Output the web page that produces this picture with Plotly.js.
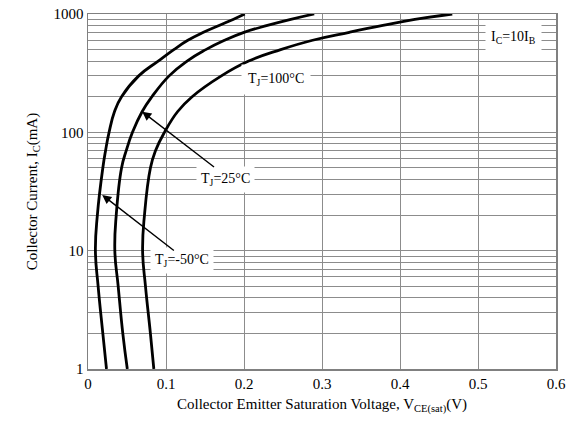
<!DOCTYPE html>
<html>
<head>
<meta charset="utf-8">
<script src="https://cdn.plot.ly/plotly-3.0.1.min.js"></script>
<style>html,body{margin:0;padding:0;background:#fff;}</style>
</head>
<body>
<div id="chart" style="width:569px;height:431px;"></div>
<script>
// Collector current (mA) and V_CE(sat) (V) for each junction temperature
var iM50 = [1, 2, 5, 10, 20, 50, 70, 100, 150, 200, 300, 400, 500, 600, 700, 800, 900, 1000];
var vM50 = [0.0237, 0.019, 0.013, 0.0095, 0.012, 0.019, 0.0225, 0.027, 0.034, 0.043, 0.065, 0.09, 0.11, 0.128, 0.148, 0.168, 0.186, 0.201];

var i25 = [1, 2, 5, 10, 20, 50, 70, 100, 150, 200, 300, 400, 500, 600, 700, 800, 900, 1000];
var v25 = [0.0504, 0.0446, 0.0387, 0.0344, 0.0362, 0.043, 0.049, 0.057, 0.0695, 0.082, 0.104, 0.127, 0.151, 0.175, 0.2, 0.23, 0.26, 0.29];

var i100 = [1, 2, 5, 10, 20, 50, 70, 100, 150, 200, 300, 400, 500, 600, 700, 800, 900, 1000];
var v100 = [0.0844, 0.08, 0.0737, 0.07, 0.0724, 0.08, 0.0865, 0.098, 0.115, 0.1335, 0.171, 0.206, 0.247, 0.288, 0.335, 0.378, 0.419, 0.467];

var xTicks = [0, 0.1, 0.2, 0.3, 0.4, 0.5, 0.6];
var xTickText = ['0', '0.1', '0.2', '0.3', '0.4', '0.5', '0.6'];
var yDecades = [1, 10, 100, 1000];
var yDecadeText = ['1', '10', '100', '1000'];

var labelM50 = 'T<sub>J</sub>=-50°C';
var label25 = 'T<sub>J</sub>=25°C';
var label100 = 'T<sub>J</sub>=100°C';
var labelCond = 'I<sub>C</sub>=10I<sub>B</sub>';

// minor grid values for every 2..9 per decade
var yGridVals = [];
for (var d = 0; d < 3; d++) {
  for (var m = 2; m <= 9; m++) yGridVals.push(m * Math.pow(10, d));
}

var lineStyle = {color: '#000', width: 2.8, shape: 'spline', smoothing: 1.3};
var traces = [
  {x: vM50, y: iM50, mode: 'lines', line: lineStyle, hoverinfo: 'skip'},
  {x: v25, y: i25, mode: 'lines', line: lineStyle, hoverinfo: 'skip'},
  {x: v100, y: i100, mode: 'lines', line: lineStyle, hoverinfo: 'skip'}
];

var fontFam = 'Times New Roman, Liberation Serif, serif';
var L = Math.log10;
var annFont = {family: fontFam, size: 14, color: '#000'};
var gridCol = '#8c8c8c';

var layout = {
  width: 569, height: 431,
  margin: {l: 87.5, r: 13.3, t: 14, b: 62},
  paper_bgcolor: '#fff', plot_bgcolor: '#fff',
  showlegend: false,
  font: {family: fontFam, size: 15, color: '#000'},
  xaxis: {
    range: [0, 0.6], tickmode: 'array', tickvals: xTicks, ticktext: xTickText,
    showgrid: true, gridcolor: gridCol, gridwidth: 1,
    showline: true, linecolor: '#808080', linewidth: 1.5, mirror: true,
    zeroline: false, ticks: '',
    tickfont: {family: fontFam, size: 15, color: '#000'},
    title: {text: 'Collector Emitter Saturation Voltage, V<sub>CE(sat)</sub>(V)', font: {family: fontFam, size: 15, color: '#000'}, standoff: 8}
  },
  yaxis: {
    type: 'log', range: [0, 3], tickmode: 'array', tickvals: yDecades, ticktext: yDecadeText,
    showgrid: true, gridcolor: gridCol, gridwidth: 1,
    minor: {tickmode: 'array', tickvals: yGridVals, showgrid: true, gridcolor: gridCol, gridwidth: 1, ticks: ''},
    showline: true, linecolor: '#808080', linewidth: 1.5, mirror: true,
    zeroline: false, ticks: '',
    tickfont: {family: fontFam, size: 15, color: '#000'},
    title: {text: 'Collector Current, I<sub>C</sub>(mA)', font: {family: fontFam, size: 15, color: '#000'}, standoff: 12}
  },
  annotations: [
    {x: 0.545, y: L(628), xref: 'x', yref: 'y', text: labelCond, showarrow: false, bgcolor: '#fff', font: annFont, borderpad: 5},
    {x: 0.241, y: L(277), xref: 'x', yref: 'y', text: label100, showarrow: false, bgcolor: '#fff', font: annFont, borderpad: 6},
    {x: 0.176, y: L(39.6), xref: 'x', yref: 'y', text: label25, showarrow: false, bgcolor: '#fff', font: annFont, borderpad: 4},
    {x: 0.12, y: L(8.34), xref: 'x', yref: 'y', text: labelM50, showarrow: false, bgcolor: '#fff', font: annFont, borderpad: 4},
    {x: 0.0695, y: L(149.6), xref: 'x', yref: 'y', ax: 0.1635, ay: L(49.8), axref: 'x', ayref: 'y', text: '', showarrow: true, arrowhead: 2, arrowsize: 1.3, arrowwidth: 1.4, arrowcolor: '#000'},
    {x: 0.0182, y: L(29.6), xref: 'x', yref: 'y', ax: 0.112, ay: L(9.8), axref: 'x', ayref: 'y', text: '', showarrow: true, arrowhead: 2, arrowsize: 1.3, arrowwidth: 1.4, arrowcolor: '#000'}
  ]
};

Plotly.newPlot('chart', traces, layout, {displayModeBar: false, staticPlot: true});
</script>
</body>
</html>
